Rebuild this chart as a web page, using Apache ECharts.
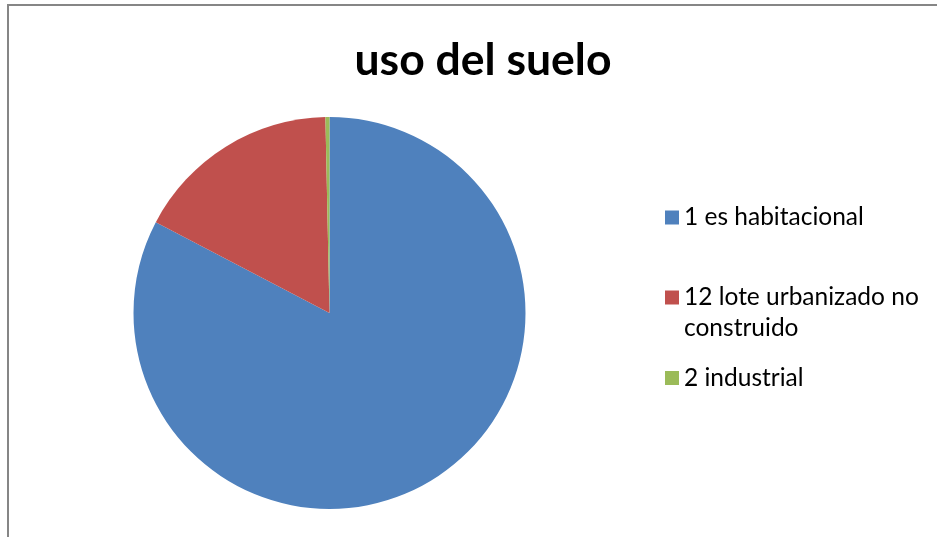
<!DOCTYPE html>
<html>
<head>
<meta charset="utf-8">
<script src="https://cdn.jsdelivr.net/npm/echarts@6/dist/echarts.min.js"></script>
<style>
  html, body { margin: 0; padding: 0; background: #fff; }
  #chart { width: 937px; height: 537px; }
</style>
</head>
<body>
<div id="chart"></div>
<script>
// datos del grafico
const categories = ["1 es habitacional", "12 lote urbanizado no construido", "2 industrial"];
const values = [248, 51, 1];
const colors = ["#4F81BD", "#C0504D", "#9BBB59"];

const FONT = "Lato";
const LINE = 31;

const chart = echarts.init(document.getElementById("chart"));

const pieData = categories.map((c, i) => ({
  name: c,
  value: values[i],
  itemStyle: { color: colors[i] }
}));

// una leyenda por elemento para poder colocar cada una
const legendTops = [217.5 - LINE / 2, 297.5 - LINE * 1.5, 378 - LINE / 2];
const legends = categories.map((c, i) => ({
  data: [c],
  orient: "vertical",
  left: 665,
  top: legendTops[i],
  padding: 0,
  icon: "rect",
  itemWidth: 14,
  itemHeight: 14,
  selectedMode: false,
  formatter: function (name) {
    if (name === "12 lote urbanizado no construido") {
      return "\n12 lote urbanizado no\nconstruido";
    }
    return name;
  },
  textStyle: {
    fontFamily: FONT,
    fontSize: 24.5,
    color: "#000",
    lineHeight: LINE
  }
}));

chart.setOption({
  animation: false,
  title: {
    text: "uso del suelo",
    left: 478,
    top: 33,
    textAlign: "center",
    textStyle: {
      fontFamily: FONT,
      fontWeight: "bold",
      fontSize: 44.5,
      color: "#000"
    }
  },
  graphic: [{
    type: "rect",
    shape: { x: 8, y: 5, width: 1000, height: 600 },
    style: { fill: "none", stroke: "#868686", lineWidth: 2 },
    silent: true
  }],
  legend: legends,
  series: [{
    type: "pie",
    center: [329.5, 313],
    radius: 196,
    startAngle: 90,
    clockwise: true,
    label: { show: false },
    labelLine: { show: false },
    emphasis: { disabled: true },
    data: pieData
  }]
});
</script>
</body>
</html>
